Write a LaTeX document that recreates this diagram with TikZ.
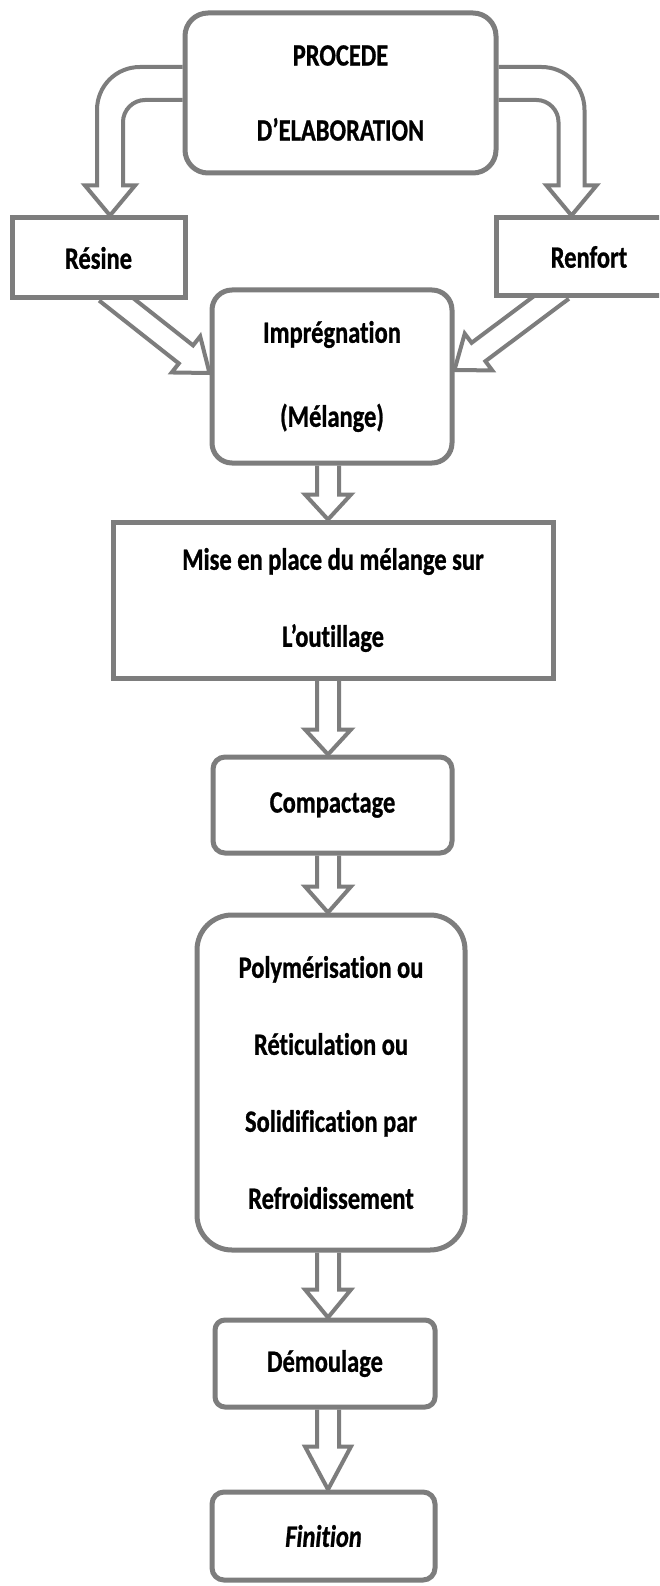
\documentclass[tikz,border=0pt]{standalone}
\usepackage{fontspec}
\setmainfont{Carlito}[FakeStretch=0.79, FakeBold=0.8, Ligatures=CommonOff]
\usetikzlibrary{calc}
\pgfdeclarelayer{bg}
\pgfsetlayers{bg,main}
\definecolor{boxgray}{RGB}{125,125,125}
\tikzset{
  box/.style={draw=boxgray, line width=5pt, fill=white, inner sep=0pt,
    align=center, text=black, font=\fontsize{31}{77}\selectfont\bfseries},
  arrowshape/.style={draw=boxgray, line width=4pt, fill=white, line join=miter},
}
\newcommand\blockarr[5]{%
  \coordinate (ba) at (#1);
  \coordinate (bb) at (#2);
  \coordinate (bh) at ($(bb)!#3!(ba)$);
  \path[arrowshape] ($(ba)!#4!90:(bb)$) -- ($(bh)!#4!90:(bb)$) -- ($(bh)!#5!90:(bb)$)
    -- (bb) -- ($(bh)!#5!-90:(bb)$) -- ($(bh)!#4!-90:(bb)$) -- ($(ba)!#4!-90:(bb)$);
}
\begin{document}
\begin{tikzpicture}[x=1pt, y=-1pt]
\useasboundingbox (0,0) rectangle (659,1586);
\begin{pgfonlayer}{bg}
  \fill[white] (0,0) rectangle (659,1586);
\end{pgfonlayer}
\clip (0,0) rectangle (659,1586);

\node[box, rounded corners=23pt, minimum width=311pt, minimum height=160pt] (top) at (340.5,93) {PROCEDE\\[-2pt]D’ELABORATION};
\node[box, minimum width=173pt, minimum height=80pt] (resine) at (98.5,258) {Résine};
\node[box, minimum width=186pt, minimum height=78pt] (renfort) at (589,257) {Renfort};
\node[box, rounded corners=20pt, minimum width=240pt, minimum height=173pt] (impreg) at (332,376.5) {Imprégnation\\[7pt](Mélange)};
\node[box, minimum width=440pt, minimum height=156pt] (mise) at (333,600) {Mise en place du mélange sur\\L’outillage};
\node[box, rounded corners=12pt, minimum width=239pt, minimum height=96pt] (compact) at (332.5,805) {Compactage};
\node[box, rounded corners=35pt, minimum width=268pt, minimum height=335pt] (polym) at (331,1082.5) {Polymérisation ou\\Réticulation ou\\Solidification par\\Refroidissement};
\node[box, rounded corners=10pt, minimum width=220pt, minimum height=87pt] (demoul) at (325,1363.5) {Démoulage};
\node[box, rounded corners=12pt, minimum width=223pt, minimum height=88pt] (finit) at (323.5,1536) {\itshape Finition};

\coordinate (col) at (328,0);

\begin{pgfonlayer}{bg}
  % curved arrows from the top box
  \path[arrowshape] let \p1=($(top.west)+(0,-26)$), \p2=($(top.west)+(0,7)$), \p3=($(resine.north)+(11.5,0)$) in
    (\p1) -- (\x3+30pt,\y1) .. controls (\x3+6pt,\y1) and (\x3-13pt,\y1-19pt) .. (\x3-13pt,\y1-43pt)
    -- (\x3-13pt,\y3+30pt) -- (\x3-25pt,\y3+30pt) -- (\p3) -- (\x3+25pt,\y3+30pt) -- (\x3+13pt,\y3+30pt)
    -- (\x3+13pt,\y2-22pt) .. controls (\x3+13pt,\y2-10pt) and (\x3+23pt,\y2) .. (\x3+35pt,\y2) -- (\p2);
  \path[arrowshape] let \p1=($(top.east)+(0,-26)$), \p2=($(top.east)+(0,7)$), \p3=($(renfort.north)+(-17.5,0)$) in
    (\p1) -- (\x3-30pt,\y1) .. controls (\x3-6pt,\y1) and (\x3+13pt,\y1-19pt) .. (\x3+13pt,\y1-43pt)
    -- (\x3+13pt,\y3+30pt) -- (\x3+25pt,\y3+30pt) -- (\p3) -- (\x3-25pt,\y3+30pt) -- (\x3-13pt,\y3+30pt)
    -- (\x3-13pt,\y2-22pt) .. controls (\x3-13pt,\y2-10pt) and (\x3-23pt,\y2) .. (\x3-35pt,\y2) -- (\p2);
  % diagonal arrows into the impregnation box
  \blockarr{$(resine.south)+(7.7,-9)$}{$(impreg.west)+(0,-3.5)$}{30pt}{11.5pt}{23pt}
  \blockarr{$(renfort.south)+(-27,-9)$}{$(impreg.east)+(0,-6.5)$}{30pt}{11.5pt}{23pt}
  % vertical arrows
  \blockarr{impreg.south -| col}{mise.north -| col}{25pt}{11pt}{23pt}
  \blockarr{mise.south -| col}{compact.north -| col}{25pt}{11pt}{23pt}
  \blockarr{compact.south -| col}{polym.north -| col}{26pt}{11pt}{23pt}
  \blockarr{polym.south -| col}{demoul.north -| col}{28pt}{11pt}{23pt}
  \blockarr{demoul.south -| col}{finit.north -| col}{43pt}{11pt}{23pt}
\end{pgfonlayer}
\end{tikzpicture}
\end{document}
